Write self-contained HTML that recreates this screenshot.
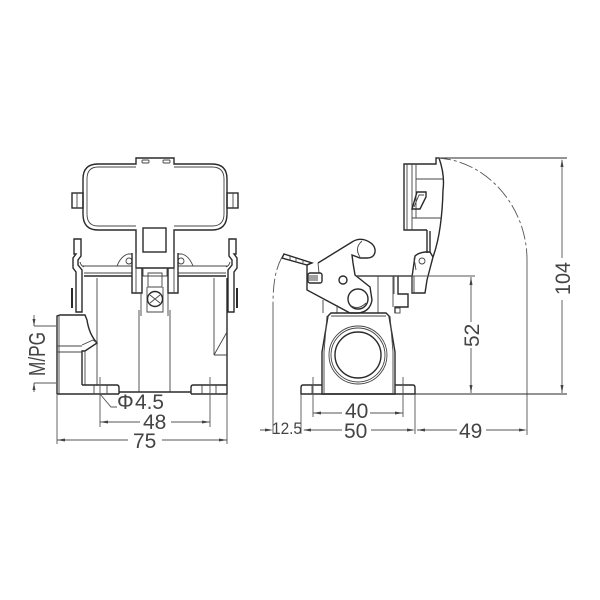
<!DOCTYPE html>
<html><head><meta charset="utf-8"><style>
html,body{margin:0;padding:0;background:#fff}
svg{display:block}
text{font-family:"Liberation Sans",sans-serif;font-size:21px;fill:#444}
.o{fill:none;stroke:#444;stroke-width:.9}
.t{fill:none;stroke:#2a2a2a;stroke-width:1.4}
.d{fill:none;stroke:#555;stroke-width:.9}
.a{fill:#444;stroke:none}
</style></head><body>
<svg width="600" height="600" viewBox="0 0 600 600" xmlns="http://www.w3.org/2000/svg">
<rect width="600" height="600" fill="#fff"/>
<!-- LEFT VIEW -->
<g>
<path class="t" d="M136 164V158H174V164H212Q227 164 227 179V214Q227 230 212 230H174V268H136V230H98Q83 230 83 214V179Q83 164 98 164Z"/>
<path class="o" d="M136 167H98Q87 167 87 179V214Q87 226 98 226H136M174 167H212Q224 167 224 179V214Q224 226 212 226H174"/>
<rect class="o" x="142" y="160" width="7" height="3" rx="1"/><rect class="o" x="163" y="160" width="7" height="3" rx="1"/>
<rect class="t" x="72" y="193" width="11" height="15"/><path class="o" d="M77 193V208"/>
<rect class="t" x="227" y="193" width="11" height="15"/><path class="o" d="M233 193V208"/>
<rect class="t" x="143" y="228" width="23" height="24"/>
<path class="o" d="M82 266H132M178 266H228"/>
<path class="t" d="M84 276H132M178 276H226"/>
<path class="o" d="M84 273H132M178 273H226"/>
<path class="o" d="M117 266Q121 256 128 254H132V266M193 266Q189 256 182 254H178V266"/>
<circle class="o" cx="129" cy="261" r="3"/><circle class="o" cx="181" cy="261" r="3"/>
<path class="t" d="M132 253V293H142V268M178 253V293H168V268"/>
<path class="o" d="M136 253V293M174 253V293"/>
<path class="o" d="M143 268V276H167V268M148 273H162V287H148ZM141 293V316M168 293V316"/>
<path class="o" d="M147 287V312H163V287"/>
<circle class="t" cx="155" cy="299" r="7.5"/><path class="o" d="M150 295L160 303M160 295L150 303"/>
<path class="o" d="M97 278V385M214 278V355M139 310V392M170 310V392"/>
<path class="t" d="M74 239H81V256L78 260V265L82 270V312H76V272L73 268V258L76 254H74Z"/>
<path class="t" d="M236 239H229V256L232 260V265L228 270V312H234V272L237 268V258L234 254H236Z"/>
<path class="t" style="stroke-width:2" d="M72 288V308M237 288V308"/>
<path class="o" d="M80 262Q81 266 84 267M230 262Q229 266 226 267"/>
<!-- lower housing -->
<path class="t" d="M57 394V316L60 315H85L87 320Q89 334 97 343L85 351H82V385"/>
<path class="o" d="M57 346H82M57 352H82M85 351V385M82 345L93 340L97 343M59 316V394"/>
<path class="t" d="M57 394H119M119 392H191M191 394H227V278"/>
<path class="t" d="M82 385H117Q119 385 119 388V394M227 385H193Q191 385 191 388V394"/>
<path class="o" d="M94 385V394M107 385V394M202 385V394M216 385V394"/>
<path class="o" d="M214 355H227M214 355L227 332"/>
<!-- dims -->
<path class="d" d="M34 326H56M34 383H56M34 315V326M34 383V392M100 377V427M210 377V427M57 394V444M227 394V444"/>
<path class="d" d="M100 394L111 407H117"/>
<path class="d" d="M100 422H140M171 422H210M57 440H128M162 440H227"/>
<path class="a" d="M34 326l-1.5-7h3zM34 383l-1.5 7h3zM100 422l8-1.5v3zM210 422l-8-1.5v3zM57 440l8-1.5v3zM227 440l-8-1.5v3z"/>
<text x="117" y="409">Φ</text><text x="135" y="409" textLength="29" lengthAdjust="spacingAndGlyphs">4.5</text>
<text x="143" y="429">48</text>
<text x="133" y="448">75</text>
<text transform="translate(45 376) rotate(-90)" style="font-size:23px" textLength="44" lengthAdjust="spacingAndGlyphs">M/PG</text>
</g>
<!-- RIGHT VIEW -->
<g>
<!-- open cover -->
<path class="t" d="M427 230H404V164H436V158H439Q445 175 443 190Q442 232 433 257L427 280L425 293H412V277"/>
<path class="o" d="M407 164V230M412 164V230M416 164V218M416 179H443M412 218H442"/>
<path class="t" d="M412 209L417 192H426V197L420 209Z"/>
<path class="o" d="M414 207L419 195H424"/>
<path class="t" d="M427 230V253M430 231V253"/>
<path class="t" d="M412 277L415 256Q418 253 425 252H430L433 257"/>
<circle class="o" cx="422" cy="261" r="3"/>
<path class="o" d="M414 258L416 270M414 276V293"/>
<!-- latch -->
<path class="t" d="M318 263L352 242Q358 238 365 240Q376 244 375 252Q374 258 367 258H360L352 255L353 263L355 275L370 287L372 300Q370 312 358 313H350L307 290V265L311 263"/>
<path class="o" d="M318 263L319 273M360 257Q354 248 362 241"/>
<circle class="t" cx="343" cy="280" r="4"/>
<circle class="t" cx="358" cy="299" r="10"/>
<path class="o" d="M350 305Q358 311 366 303"/>
<path class="t" d="M284 254L312 263L307 265L282 258Z"/>
<path class="o" d="M290 256V260M296 258V261M303 260V263"/>
<rect class="t" x="308" y="273" width="14" height="10" rx="2"/><path class="o" d="M309 276H318M309 278H318M309 280H318"/>
<!-- body -->
<path class="t" d="M357 276H412M398 276V294H408V307H395V313"/>
<path class="o" d="M378 276V313M393 276V307M394 276V294M412 277V294M323 300V313M337 305V313"/>
<rect class="o" x="395" y="308" width="5" height="5"/>
<path class="t" d="M328 316L331 313H386L389 316L395 352V394H322V352Z"/>
<path class="o" d="M331 316H386M327 316L324 352V393M390 316L393 352V393"/>
<path class="t" d="M322 385H303Q301 385 301 388V394H415V388Q415 385 413 385H395"/>
<path class="o" d="M312 385V394M403 385V394"/>
<circle class="o" cx="358" cy="355" r="29"/>
<circle class="o" cx="358" cy="355" r="27"/>
<circle class="t" cx="358" cy="355" r="23"/>
<!-- dims -->
<path class="d" d="M357 276H475M527 260V435M301 394V434M415 394V434M313 377V417M403 377V417"/>
<path class="t" style="stroke-width:1.1" d="M415 394H567M437 158H567"/>
<path class="d" stroke-dasharray="14 3 3 3" d="M437 158C485 160 527 205 527 260"/>
<path class="d" stroke-dasharray="14 3 3 3" d="M282 257C275 270 273 285 273 305"/>
<path class="d" d="M273 305V434M260 430H270M304 430H342M371 430H413M417 430H457M486 430H525"/>
<path class="d" d="M313 413H342M370 413H403"/>
<path class="d" d="M471 277V322M471 348V393M562 160V258M562 300V393"/>
<path class="a" d="M273 430l-8-1.5v3zM303 430l8-1.5v3zM415 430l-8-1.5v3zM417 430l8-1.5v3zM527 430l-8-1.5v3zM313 413l8-1.5v3zM403 413l-8-1.5v3zM471 277l-1.5 8h3zM471 393l-1.5-8h3zM562 159l-1.5 8h3zM562 393l-1.5-8h3z"/>
<text x="345" y="418">40</text>
<text x="344" y="438">50</text>
<text x="459" y="438">49</text>
<text x="272" y="434" style="font-size:17px" textLength="30" lengthAdjust="spacingAndGlyphs">12.5</text>
<text transform="translate(479 347) rotate(-90)">52</text>
<text transform="translate(570 295) rotate(-90)" textLength="33" lengthAdjust="spacingAndGlyphs">104</text>
</g>
</svg>
</body></html>
